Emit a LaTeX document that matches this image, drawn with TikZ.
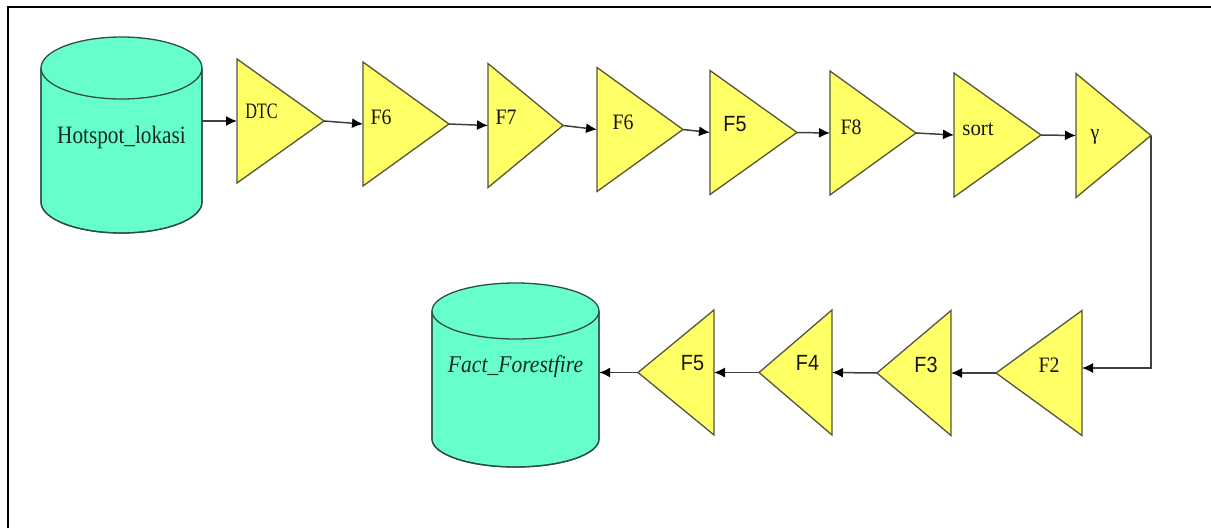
\documentclass[tikz,border=0pt]{standalone}
\usepackage{fontspec}
\setmainfont{Liberation Serif}
\newfontfamily\labsans{Liberation Sans}
\usetikzlibrary{shapes.geometric,arrows.meta}

\definecolor{dbfill}{HTML}{66FFCC}
\definecolor{dbline}{HTML}{2E4F45}
\definecolor{dbtext}{HTML}{16291F}
\definecolor{opfill}{HTML}{FFFF66}
\definecolor{opline}{HTML}{55553F}
\definecolor{wire}{HTML}{404040}

\tikzset{
  op/.style={isosceles triangle, isosceles triangle stretches,
    draw=opline, fill=opfill, line width=1.3pt,
    inner sep=0pt, outer sep=0pt, anchor=lower side},
  % width = base, height = distance from base to apex
  opR/.style={op, shape border rotate=0, minimum height=#1, minimum width=124pt},
  opL/.style={op, shape border rotate=180, minimum height=#1, minimum width=125pt},
  lab/.style={font=\fontsize{22}{26}\selectfont, text=black!92, inner sep=0pt, xscale=0.9},
  labs/.style={lab, font=\labsans\fontsize{22}{26}\selectfont},
  db/.style={draw=dbline, fill=dbfill, line width=1.3pt},
  dbname/.style={inner sep=0pt, text=dbtext},
  wirearrow/.style={draw=wire, line width=1.5pt, -{Latex[length=11pt,width=10pt,black]}},
}

\begin{document}
\begin{tikzpicture}[x=1pt,y=-1pt]
\useasboundingbox (0,0) rectangle (1211,528);

% frame
\draw[line width=2pt] (8,528) -- (8,7.3) -- (1211,7.3);

% source table
\fill[db] (41,68) -- (41,202) arc[start angle=180, end angle=0, x radius=80.5, y radius=31] -- (202,68);
\draw[db, fill=none] (41,68) -- (41,202) arc[start angle=180, end angle=0, x radius=80.5, y radius=31] -- (202,68);
\draw[db] (121.5,68) ellipse[x radius=80.5, y radius=31];
% node width 161pt after the 0.85 horizontal squeeze
\node[dbname, minimum width=189.4pt, font=\fontsize{25}{30}\selectfont, xscale=0.85] (hot) at (121.5,137) {Hotspot\_lokasi};

% target table
\fill[db] (432,311) -- (432,439) arc[start angle=180, end angle=0, x radius=83.5, y radius=28] -- (599,311);
\draw[db, fill=none] (432,311) -- (432,439) arc[start angle=180, end angle=0, x radius=83.5, y radius=28] -- (599,311);
\draw[db] (515.5,311) ellipse[x radius=83.5, y radius=28];
% node width 167pt after the 0.9 horizontal squeeze
\node[dbname, minimum width=185.6pt, font=\itshape\fontsize{24}{28}\selectfont, xscale=0.9] (fact) at (515.5,367) {Fact\_Forestfire};

% upper chain of operators
\node[opR=87pt] (dtc) at (237,121) {};
\node[opR=86pt] (f6a) at (363,124) {};
\node[opR=75pt] (f7)  at (488,125.5) {};
\node[opR=86pt] (f6b) at (597,129.5) {};
\node[opR=87pt] (f5a) at (710,132.5) {};
\node[opR=86pt] (f8)  at (830,133) {};
\node[opR=87pt] (srt) at (954,135) {};
\node[opR=75pt] (gam) at (1076,135.5) {};

% lower chain of operators
\node[opL=86pt] (f2)  at (1082,373) {};
\node[opL=74pt] (f3)  at (951,373) {};
\node[opL=73pt] (f4)  at (832,372.5) {};
\node[opL=76pt] (f5b) at (714,372.5) {};

% operator labels
\node[lab, xscale=0.82] (tdtc) at (261.5,111) {DTC};
\node[lab]  (tf6a) at (381,117) {F6};
\node[lab]  (tf7)  at (506,117) {F7};
\node[lab]  (tf6b) at (623,122) {F6};
\node[labs] (tf5a) at (735,124) {F5};
\node[lab]  (tf8)  at (851,127) {F8};
\node[lab, xscale=1.05] (tsrt) at (978,129) {sort};
\node[lab]  (tgam) at (1095,137) {γ};
\node[lab]  (tf2)  at (1049,365) {F2};
\node[labs] (tf3)  at (926,365) {F3};
\node[labs] (tf4)  at (807.5,363) {F4};
\node[labs] (tf5b) at (692.5,363) {F5};

% data flow
\draw[wirearrow] (hot.east |- dtc.lower side) -- (dtc.lower side);
\draw[wirearrow] (dtc.apex) -- (f6a.lower side);
\draw[wirearrow] (f6a.apex) -- (f7.lower side);
\draw[wirearrow] (f7.apex) -- (f6b.lower side);
\draw[wirearrow] (f6b.apex) -- (f5a.lower side);
\draw[wirearrow] (f5a.apex) -- (f8.lower side);
\draw[wirearrow] (f8.apex) -- (srt.lower side);
\draw[wirearrow] (srt.apex) -- (gam.lower side);
\draw[wirearrow] (gam.apex) |- ([yshift=5pt]f2.lower side);
\draw[wirearrow] (f2.apex) -- (f3.lower side);
\draw[wirearrow] (f3.apex) -- (f4.lower side);
\draw[wirearrow] (f4.apex) -- (f5b.lower side);
\draw[wirearrow] (f5b.apex) -- (f5b.apex -| fact.east);
\end{tikzpicture}
\end{document}
